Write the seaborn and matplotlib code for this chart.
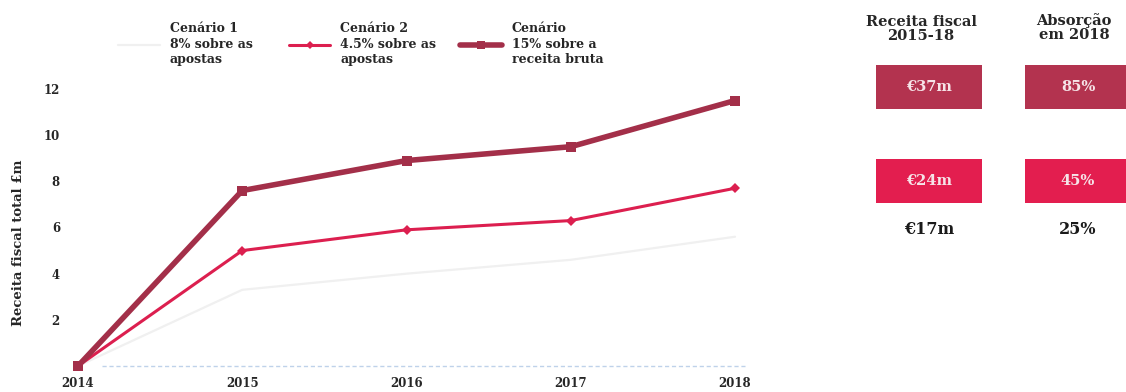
import matplotlib
matplotlib.use("Agg")
import matplotlib.pyplot as plt
from matplotlib.lines import Line2D
from matplotlib.patches import Rectangle
import seaborn as sns
import pandas as pd

# ---- data -------------------------------------------------------------
anos = [2014, 2015, 2016, 2017, 2018]
cenario_1 = [0.0, 3.3, 4.0, 4.6, 5.6]      # 8% sobre as apostas
cenario_2 = [0.0, 5.0, 5.9, 6.3, 7.7]      # 4.5% sobre as apostas
cenario_3 = [0.0, 7.6, 8.9, 9.5, 11.5]     # 15% sobre a receita bruta

legendas = ["Cenário 1\n8% sobre as\napostas",
            "Cenário 2\n4.5% sobre as\napostas",
            "Cenário\n15% sobre a\nreceita bruta"]

yticks = [2, 4, 6, 8, 10, 12]

receita_titulo = "Receita fiscal\n2015-18"
absorcao_titulo = "Absorção\nem 2018"
receita_total = ["€37m", "€24m", "€17m"]
absorcao = ["85%", "45%", "25%"]

# ---- style ------------------------------------------------------------
sns.set_theme(style="white")
plt.rcParams["font.family"] = ["DejaVu Serif"]
plt.rcParams["font.weight"] = "bold"

cor_1 = "#f0f0f0"
cor_2 = "#dc1f4f"
cor_3 = "#a32f49"
caixa_3 = "#b3334f"
caixa_2 = "#e31e4f"

W, H = 1126, 392
fig = plt.figure(figsize=(W / 100, H / 100), dpi=100)

# main line chart, placed in pixel terms
left_px, right_px, top_px, bottom_px = 60, 755, 80, 370
ax = fig.add_axes([left_px / W, 1 - bottom_px / H,
                   (right_px - left_px) / W, (bottom_px - top_px) / H])

df = pd.DataFrame({"ano": anos * 3,
                   "valor": cenario_1 + cenario_2 + cenario_3,
                   "cenario": [legendas[0]] * 5 + [legendas[1]] * 5 + [legendas[2]] * 5})

estilos = {
    legendas[0]: dict(color=cor_1, linewidth=1.6, marker=None),
    legendas[1]: dict(color=cor_2, linewidth=2.2, marker="D", markersize=5),
    legendas[2]: dict(color=cor_3, linewidth=4.0, marker="s", markersize=7),
}
for nome in legendas:
    sub = df[df["cenario"] == nome]
    sns.lineplot(data=sub, x="ano", y="valor", ax=ax, legend=False,
                 markeredgewidth=0, clip_on=False, **estilos[nome])

# dotted baseline along zero
ax.axhline(0, xmin=0.06, xmax=0.985, color="#bfd2ea", lw=1.0, ls=(0, (3, 2)), zorder=0)

px_per_year = (735 - 78) / 4
px_per_unit = (366 - 89) / 12
ax.set_xlim(2014 - (78 - left_px) / px_per_year, 2018 + (right_px - 735) / px_per_year)
ax.set_ylim(-(bottom_px - 366) / px_per_unit, 12 + (89 - top_px) / px_per_unit)

ax.set_xticks(anos)
ax.set_xticklabels([str(a) for a in anos], fontsize=8.5, fontweight="bold")
ax.set_yticks(yticks)
ax.set_yticklabels([str(v) for v in yticks], fontsize=8.5, fontweight="bold")
ax.tick_params(axis="both", length=0, pad=5)
ax.tick_params(axis="y", pad=0)
for s in ax.spines.values():
    s.set_visible(False)
ax.set_xlabel("")
ax.set_ylabel("Receita fiscal total £m", fontsize=9.5, fontweight="bold")
ax.yaxis.set_label_coords(-0.05, 0.44)

# legend: one entry per block, each placed on its own
leg_pos = [(112, 44), (283, 44), (454, 44)]
for nome, (lx, ly) in zip(legendas, leg_pos):
    st = estilos[nome]
    h = Line2D([], [], color=st["color"], lw=st["linewidth"], marker=st["marker"],
               markersize=(st.get("markersize", 0) or 0) * 0.8, markeredgewidth=0)
    lg = fig.legend(handles=[h], labels=[nome], loc="center left",
                    bbox_to_anchor=(lx / W, 1 - ly / H), frameon=False,
                    handlelength=3.3, handletextpad=0.8, borderpad=0,
                    prop={"size": 9, "weight": "bold"})
    for t in lg.get_texts():
        t.set_linespacing(1.25)

# ---- summary panel ----------------------------------------------------
axr = fig.add_axes([840 / W, 0, (W - 840) / W, 1])
axr.set_xlim(840, W)
axr.set_ylim(H, 0)
axr.axis("off")

axr.text(921, 29, receita_titulo, ha="center", va="center",
         fontsize=10.5, fontweight="bold", linespacing=1.0)
axr.text(1074, 28, absorcao_titulo, ha="center", va="center",
         fontsize=10.5, fontweight="bold", linespacing=1.0)

col_x = [929, 1078]
linhas_y = [87, 181, 229]
cores = [caixa_3, caixa_2, None]
caixas = [(876, 982), (1025, 1145)]
for i, (yc, cor) in enumerate(zip(linhas_y, cores)):
    for j, (vals, (x0, x1)) in enumerate(zip([receita_total, absorcao], caixas)):
        if cor is not None:
            axr.add_patch(Rectangle((x0, yc - 22), x1 - x0, 44, color=cor, lw=0))
            axr.text(col_x[j], yc, vals[i], ha="center", va="center",
                     fontsize=10.5, fontweight="bold", color="#f6e4e8")
        else:
            axr.text(col_x[j], yc, vals[i], ha="center", va="center",
                     fontsize=11.5, fontweight="bold", color="#1a1a1a")

fig.savefig("out.png", dpi=100, facecolor="white")
